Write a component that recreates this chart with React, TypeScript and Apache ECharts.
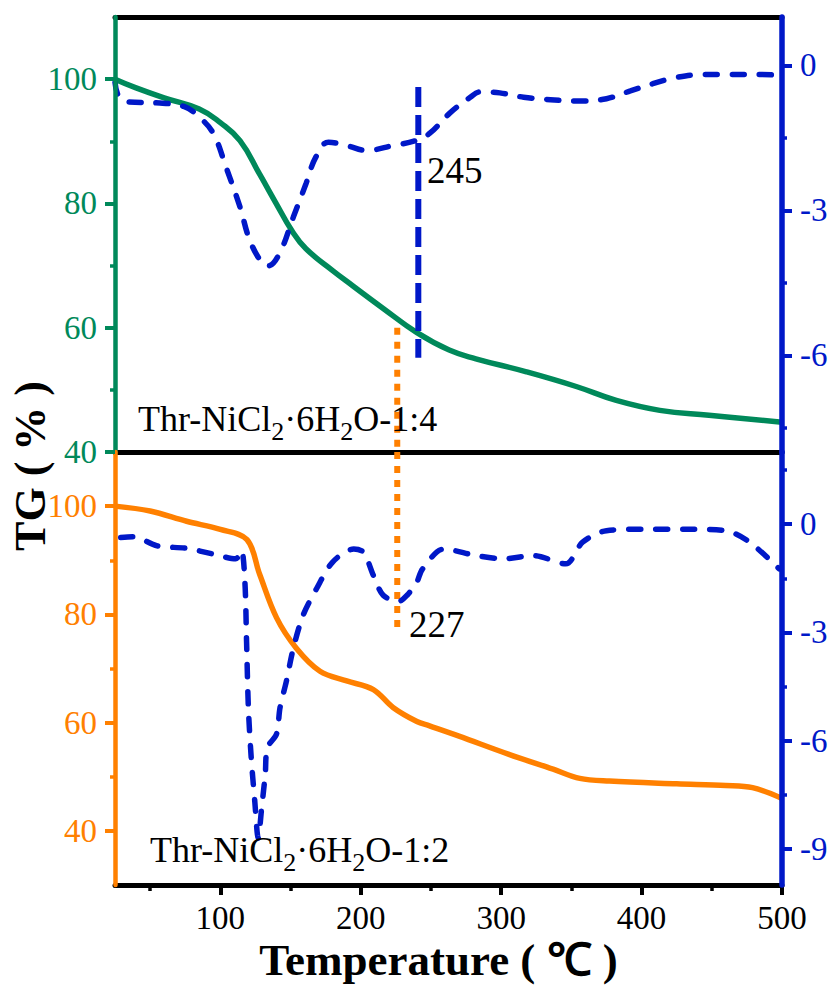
import React, { useEffect, useRef } from "react";
import * as echarts from "echarts";

// ---------- data ----------
const xMin = 25;
const xMax = 500;
const xMajorTicks = [100, 200, 300, 400, 500];
const xMinorTicks = [50, 150, 250, 350, 450];

const tgTopMajor = [40, 60, 80, 100];
const tgTopMinor = [50, 70, 90];
const dtgTopMajor = [-6, -3, 0];
const dtgTopMinor = [-7.5, -4.5, -1.5];

const tgBotMajor = [40, 60, 80, 100];
const tgBotMinor = [50, 70, 90];
const dtgBotMajor = [-9, -6, -3, 0];
const dtgBotMinor = [-7.5, -4.5, -1.5, 1.5];

// Thr-NiCl2·6H2O-1:4 (top panel)
const tgTop = [
  [25, 100], [40, 98.6], [60, 97], [85, 95.2], [100, 93], [114, 90.1], [128, 84.7],
  [140, 79.9], [151, 75.6], [161, 72.7], [180, 69.2], [194, 66.8], [216, 63.1],
  [240, 59.2], [263, 56.4], [282, 55], [318, 52.9], [354, 50.5], [382, 48.3],
  [413, 46.7], [448, 45.9], [500, 44.8],
];
const dtgTop = [
  [25, -0.35], [28, -0.66], [35, -0.76], [57, -0.78], [74, -0.85], [85, -1.07],
  [95, -1.41], [104, -2.1], [114, -2.93], [121, -3.62], [130, -4.1], [134, -4.15],
  [142, -3.9], [152, -3.14], [161, -2.45], [168, -1.9], [177, -1.59], [190, -1.66],
  [204, -1.76], [223, -1.66], [240, -1.55], [249, -1.41], [263, -1.0], [278, -0.66],
  [285, -0.55], [299, -0.57], [316, -0.66], [335, -0.71], [356, -0.74], [375, -0.69],
  [392, -0.53], [408, -0.38], [425, -0.25], [444, -0.19], [463, -0.19], [484, -0.19],
  [500, -0.21],
];
const peakTopX = 241;
const peakTopLine = [[peakTopX, -0.45], [peakTopX, -6.05]];

// Thr-NiCl2·6H2O-1:2 (bottom panel)
const tgBot = [
  [25, 100], [50, 99.1], [76, 97.2], [100, 95.7], [119, 93.8], [128, 87.4],
  [140, 79.4], [154, 73.8], [171, 69.5], [190, 67.7], [209, 66.1], [223, 62.8],
  [240, 60.2], [249, 59.4], [270, 57.5], [306, 54.1], [337, 51.4], [356, 49.7],
  [377, 49.2], [425, 48.7], [460, 48.4], [479, 48], [500, 46],
];
const dtgBot = [
  [29, -0.37], [38, -0.35], [55, -0.6], [76, -0.67], [95, -0.83], [111, -0.96],
  [115, -0.73], [117.5, -1.6], [118.7, -3.26], [120, -5.1], [122, -6.47],
  [124.5, -7.66], [127, -8.7], [129.5, -7.84], [132, -6.93], [133.5, -6.19],
  [140, -5.82], [142.5, -5.09], [147, -4.36], [152, -3.44], [159, -2.52],
  [168.5, -1.79], [180, -1.05], [195, -0.69], [202, -0.78], [209, -1.42],
  [216, -1.97], [227, -2.14], [233, -1.97], [240, -1.6], [244, -1.24], [259, -0.69],
  [282, -0.87], [301, -0.96], [323, -0.87], [346, -1.1], [358, -0.5], [375, -0.18],
  [401, -0.14], [437, -0.14], [460, -0.18], [477, -0.5], [498, -1.24],
];
const peakBotX = 226;
const peakBotLineTop = [[peakBotX, 60], [peakBotX, 40]];
const peakBotLineBottom = [[peakBotX, 110], [peakBotX, 76.5]];

const peakTopLabel = "245";
const peakBotLabel = "227";

// ---------- styles ----------
const FONT = "Liberation Serif";
const GREEN = "#00895A";
const ORANGE = "#FF8000";
const BLUE = "#0018C8";
const BLACK = "#000000";

function mainYAxis(grid: number, pos: string, min: number, max: number, color: string, ticks: number[], width: number) {
  return {
    type: "value",
    gridIndex: grid,
    position: pos,
    min,
    max,
    axisLine: { show: true, onZero: false, lineStyle: { color, width } },
    axisTick: { show: true, inside: false, length: 10, customValues: ticks, lineStyle: { color, width: 4 } },
    axisLabel: {
      show: true,
      customValues: ticks,
      margin: 18,
      color,
      fontFamily: FONT,
      fontSize: 33,
      textStyle: { fontFamily: FONT },
    },
    splitLine: { show: false },
    z: 5,
  };
}
function minorYAxis(grid: number, pos: string, min: number, max: number, color: string, ticks: number[]) {
  return {
    type: "value",
    gridIndex: grid,
    position: pos,
    min,
    max,
    axisLine: { show: false, onZero: false },
    axisTick: { show: true, inside: false, length: 5, customValues: ticks, lineStyle: { color, width: 3.5 } },
    axisLabel: { show: false },
    splitLine: { show: false },
  };
}

export default function App() {
  const ref = useRef<HTMLDivElement>(null);
  useEffect(() => {
    if (!ref.current) return;
    const chart = echarts.init(ref.current, undefined, { renderer: "svg" });
    const dash = [12, 15];
    const option: any = {
      animation: false,
      backgroundColor: "#ffffff",
      textStyle: { fontFamily: FONT },
      grid: [
        { left: 115, right: 50, top: 17, height: 435, containLabel: false, outerBoundsMode: "none" },
        { left: 115, right: 50, top: 452, height: 433, containLabel: false, outerBoundsMode: "none" },
      ],
      xAxis: [
        {
          type: "value", gridIndex: 0, position: "bottom", min: xMin, max: xMax,
          axisLine: { show: true, onZero: false, lineStyle: { color: BLACK, width: 5 } },
          axisTick: { show: false }, axisLabel: { show: false }, splitLine: { show: false },
        },
        {
          type: "value", gridIndex: 0, position: "top", min: xMin, max: xMax,
          axisLine: { show: true, onZero: false, lineStyle: { color: BLACK, width: 5 } },
          axisTick: { show: false }, axisLabel: { show: false }, splitLine: { show: false },
        },
        {
          type: "value", gridIndex: 1, position: "bottom", min: xMin, max: xMax,
          axisLine: { show: true, onZero: false, lineStyle: { color: BLACK, width: 5 } },
          axisTick: { show: true, length: 10, customValues: xMajorTicks, lineStyle: { color: BLACK, width: 4 } },
          axisLabel: { show: true, customValues: xMajorTicks, margin: 16, color: BLACK, fontFamily: FONT, fontSize: 33 },
          splitLine: { show: false },
          name: "Temperature ( \u2103 )",
          nameLocation: "middle",
          nameGap: 52,
          nameTextStyle: { fontFamily: FONT, fontSize: 45, fontWeight: "bold", color: BLACK, padding: [0, 20, 0, 0] },
        },
        {
          type: "value", gridIndex: 1, position: "bottom", min: xMin, max: xMax,
          axisLine: { show: false, onZero: false },
          axisTick: { show: true, length: 6, customValues: xMinorTicks, lineStyle: { color: BLACK, width: 3.5 } },
          axisLabel: { show: false }, splitLine: { show: false },
        },
      ],
      yAxis: [
        mainYAxis(0, "left", 40, 110, GREEN, tgTopMajor, 4.5),
        minorYAxis(0, "left", 40, 110, GREEN, tgTopMinor),
        mainYAxis(0, "right", -8, 1, BLUE, dtgTopMajor, 5.5),
        minorYAxis(0, "right", -8, 1, BLUE, dtgTopMinor),
        mainYAxis(1, "left", 30, 110, ORANGE, tgBotMajor, 4.5),
        minorYAxis(1, "left", 30, 110, ORANGE, tgBotMinor),
        mainYAxis(1, "right", -10, 2, BLUE, dtgBotMajor, 5.5),
        minorYAxis(1, "right", -10, 2, BLUE, dtgBotMinor),
      ],
      series: [
        {
          type: "line", name: "TG 1:4", xAxisIndex: 0, yAxisIndex: 0, data: tgTop,
          smooth: 0.45, showSymbol: false, lineStyle: { color: GREEN, width: 5.5 },
        },
        {
          type: "line", name: "DTG 1:4", xAxisIndex: 0, yAxisIndex: 2, data: dtgTop,
          smooth: 0.4, showSymbol: false,
          lineStyle: { color: BLUE, width: 5.5, type: dash, cap: "round" },
        },
        {
          type: "line", name: "peak 245", xAxisIndex: 0, yAxisIndex: 2, data: peakTopLine,
          showSymbol: false, lineStyle: { color: BLUE, width: 6, type: [20, 8], cap: "butt" },
        },
        {
          type: "line", name: "peak 227 top", xAxisIndex: 0, yAxisIndex: 0, data: peakBotLineTop,
          showSymbol: false, lineStyle: { color: ORANGE, width: 6, type: [7, 7], cap: "butt" },
        },
        {
          type: "line", name: "TG 1:2", xAxisIndex: 2, yAxisIndex: 4, data: tgBot,
          smooth: 0.35, showSymbol: false, lineStyle: { color: ORANGE, width: 5.5 },
        },
        {
          type: "line", name: "peak 227 bottom", xAxisIndex: 2, yAxisIndex: 4, data: peakBotLineBottom,
          showSymbol: false, lineStyle: { color: ORANGE, width: 6, type: [7, 7], cap: "butt" },
        },
        {
          type: "line", name: "DTG 1:2", xAxisIndex: 2, yAxisIndex: 6, data: dtgBot,
          smooth: 0.3, showSymbol: false,
          lineStyle: { color: BLUE, width: 5.5, type: dash, cap: "round" },
        },
      ],
      graphic: [
        {
          type: "text", x: 30, y: 466, rotation: Math.PI / 2, z: 100,
          style: {
            text: "TG ( % )", fontFamily: FONT, fontSize: 44, fontWeight: "bold",
            fill: BLACK, align: "center", verticalAlign: "middle",
          },
        },
        {
          type: "text", x: 138, y: 418.5, z: 100,
          style: {
            text: "{n|Thr-NiCl}{s|2}{n|\u00b76H}{s|2}{n|O-1:4}",
            align: "left", verticalAlign: "middle",
            rich: {
              n: { fontFamily: FONT, fontSize: 36, lineHeight: 52, verticalAlign: "middle", fill: BLACK },
              s: { fontFamily: FONT, fontSize: 26, lineHeight: 26, verticalAlign: "bottom", fill: BLACK },
            },
          },
        },
        {
          type: "text", x: 150, y: 849.5, z: 100,
          style: {
            text: "{n|Thr-NiCl}{s|2}{n|\u00b76H}{s|2}{n|O-1:2}",
            align: "left", verticalAlign: "middle",
            rich: {
              n: { fontFamily: FONT, fontSize: 36, lineHeight: 52, verticalAlign: "middle", fill: BLACK },
              s: { fontFamily: FONT, fontSize: 26, lineHeight: 26, verticalAlign: "bottom", fill: BLACK },
            },
          },
        },
        {
          type: "text", x: 427, y: 170, z: 100,
          style: { text: peakTopLabel, fontFamily: FONT, fontSize: 37, fill: BLACK, align: "left", verticalAlign: "middle" },
        },
        {
          type: "text", x: 409, y: 624.5, z: 100,
          style: { text: peakBotLabel, fontFamily: FONT, fontSize: 37, fill: BLACK, align: "left", verticalAlign: "middle" },
        },
      ],
    };
    chart.setOption(option);
    return () => chart.dispose();
  }, []);
  return (
    <div
      ref={ref}
      style={{ position: "fixed", left: 0, top: 0, width: 832, height: 992, background: "#fff" }}
    />
  );
}
